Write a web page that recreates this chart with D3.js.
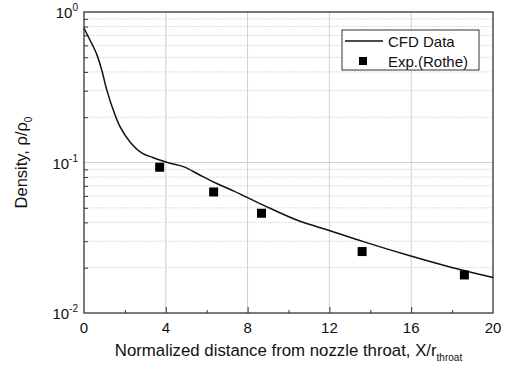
<!DOCTYPE html>
<html>
<head>
<meta charset="utf-8">
<script src="https://cdn.jsdelivr.net/npm/d3@7"></script>
<style>
  body { margin: 0; background: #fff; }
  text { font-family: "Liberation Sans", Arial, sans-serif; }
</style>
</head>
<body>
<svg id="chart"></svg>
<script>
// CFD curve (X/r_throat, rho/rho0)
const cfdX = [0, 0.29, 0.62, 0.87, 1.11, 1.43, 1.76, 2.25, 2.82, 3.39, 4.12, 4.89, 5.66, 6.47, 7.33, 8.77, 10.4, 12.03, 13.66, 15.98, 17.85, 20];
const cfdY = [0.78, 0.652, 0.525, 0.41, 0.305, 0.223, 0.173, 0.137, 0.116, 0.1076, 0.0997, 0.0935, 0.0826, 0.0728, 0.0646, 0.0521, 0.0415, 0.0352, 0.0298, 0.0239, 0.0203, 0.0172];

// experiment (Rothe)
const expX = [3.7, 6.34, 8.68, 13.6, 18.6];
const expY = [0.093, 0.0637, 0.046, 0.0256, 0.0179];

const xTicks = [0, 4, 8, 12, 16, 20];
const xMinor = [2, 6, 10, 14, 18];
const yExps = [0, -1, -2];

const W = 507, H = 369;
const m = {top: 12, right: 14, bottom: 56, left: 84};

const svg = d3.select('#chart').attr('width', W).attr('height', H);
const x = d3.scaleLinear().domain([0, 20]).range([m.left, W - m.right]);
const y = d3.scaleLog().domain([0.01, 1]).range([H - m.bottom, m.top]);

const minorY = [];
[0.01, 0.1].forEach(b => { for (let k = 2; k <= 9; k++) minorY.push(b * k); });

// grid
const g = svg.append('g');
g.selectAll('.ming').data(minorY).enter().append('line')
  .attr('x1', x(0)).attr('x2', x(20))
  .attr('y1', d => y(d)).attr('y2', d => y(d))
  .attr('stroke', '#ddd').attr('stroke-dasharray', '2,1').attr('stroke-width', 1);
g.selectAll('.vg').data(xTicks.slice(1, -1)).enter().append('line')
  .attr('x1', d => x(d)).attr('x2', d => x(d))
  .attr('y1', y(1)).attr('y2', y(0.01))
  .attr('stroke', '#d0d0d0').attr('stroke-width', 1);
g.append('line')
  .attr('x1', x(0)).attr('x2', x(20)).attr('y1', y(0.1)).attr('y2', y(0.1))
  .attr('stroke', '#d0d0d0').attr('stroke-width', 1);

// frame
svg.append('rect')
  .attr('x', x(0)).attr('y', y(1))
  .attr('width', x(20) - x(0)).attr('height', y(0.01) - y(1))
  .attr('fill', 'none').attr('stroke', '#333').attr('stroke-width', 1.3);

// inward ticks
const xAxis = d3.axisTop(x).tickValues(xTicks.slice(1, -1)).tickSize(6).tickFormat('');
svg.append('g').attr('transform', `translate(0,${y(0.01)})`).call(xAxis)
  .call(s => s.select('.domain').remove());
const xAxisMin = d3.axisTop(x).tickValues(xMinor).tickSize(3).tickFormat('');
svg.append('g').attr('transform', `translate(0,${y(0.01)})`).call(xAxisMin)
  .call(s => s.select('.domain').remove());
const yAxis = d3.axisRight(y).tickValues(minorY).tickSize(4).tickFormat('');
svg.append('g').attr('transform', `translate(${x(0)},0)`).call(yAxis)
  .call(s => s.select('.domain').remove());
svg.selectAll('.tick line').attr('stroke', '#333');

// x tick labels
svg.selectAll('.xl').data(xTicks).enter().append('text')
  .attr('x', d => x(d)).attr('y', y(0.01) + 20)
  .attr('text-anchor', 'middle').attr('font-size', 15).attr('fill', '#111')
  .text(d => d);

// y tick labels 10^n
yExps.forEach(e => {
  const t = svg.append('text')
    .attr('x', x(0) - 6).attr('y', y(Math.pow(10, e)) + 6)
    .attr('text-anchor', 'end').attr('font-size', 15).attr('fill', '#111');
  t.append('tspan').text('10');
  t.append('tspan').attr('dy', -7).attr('font-size', 10).text(e);
});

// axis titles
const xt = svg.append('text')
  .attr('x', (x(0) + x(20)) / 2).attr('y', 356)
  .attr('text-anchor', 'middle').attr('font-size', 16.8).attr('fill', '#111');
xt.append('tspan').text('Normalized distance from nozzle throat, X/r');
xt.append('tspan').attr('dy', 5).attr('font-size', 10).text('throat');

const yt = svg.append('text')
  .attr('transform', `translate(27,${(y(1) + y(0.01)) / 2}) rotate(-90)`)
  .attr('text-anchor', 'middle').attr('font-size', 16.5).attr('fill', '#111');
yt.append('tspan').text('Density, \u03C1/\u03C1');
yt.append('tspan').attr('dy', 5).attr('font-size', 10).text('0');

// CFD line
const cfd = cfdX.map((d, i) => [d, cfdY[i]]);
svg.append('path').datum(cfd)
  .attr('d', d3.line().x(d => x(d[0])).y(d => y(d[1])).curve(d3.curveCatmullRom.alpha(0.5)))
  .attr('fill', 'none').attr('stroke', '#111').attr('stroke-width', 1.5);

// experiment squares
const exp = expX.map((d, i) => [d, expY[i]]);
const sq = 9;
svg.selectAll('.pt').data(exp).enter().append('rect')
  .attr('x', d => x(d[0]) - sq / 2).attr('y', d => y(d[1]) - sq / 2)
  .attr('width', sq).attr('height', sq).attr('fill', '#000');

// legend
const lg = svg.append('g');
lg.append('rect').attr('x', 342).attr('y', 30).attr('width', 137).attr('height', 40)
  .attr('fill', '#fff').attr('stroke', '#333').attr('stroke-width', 1);
lg.append('line').attr('x1', 345).attr('x2', 383).attr('y1', 41).attr('y2', 41)
  .attr('stroke', '#111').attr('stroke-width', 1.3);
lg.append('text').attr('x', 388).attr('y', 47).attr('font-size', 15).attr('fill', '#111').text('CFD Data');
lg.append('rect').attr('x', 359).attr('y', 57).attr('width', 8).attr('height', 8).attr('fill', '#000');
lg.append('text').attr('x', 388).attr('y', 67).attr('font-size', 15).attr('fill', '#111').text('Exp.(Rothe)');
</script>
</body>
</html>
